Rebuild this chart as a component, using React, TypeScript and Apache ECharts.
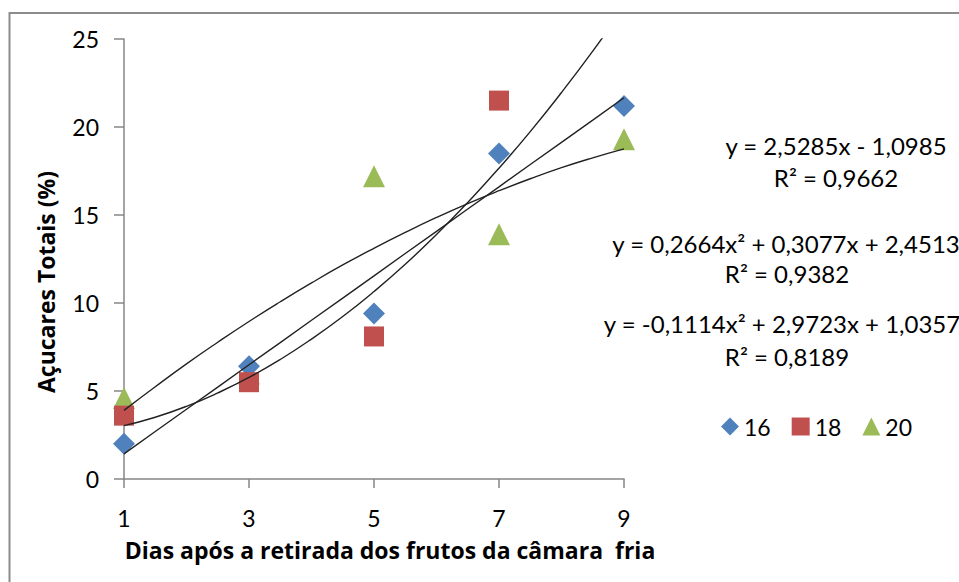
import React, { useEffect, useRef } from "react";
import * as echarts from "echarts";

// Observed data (days after removal from cold storage)
const days = [1, 3, 5, 7, 9];
const s16 = [2.0, 6.4, 9.4, 18.5, 21.2];
const s18Days = [1, 3, 5, 7];
const s18 = [3.6, 5.5, 8.1, 21.5];
const s20 = [4.6, 6.0, 17.2, 13.9, 19.3];

// Trend lines
const trendX = [1, 1.5, 2, 2.5, 3, 3.5, 4, 4.5, 5, 5.5, 6, 6.5, 7, 7.5, 8, 8.5, 9];
const trend16 = [1.43, 2.7, 3.96, 5.22, 6.49, 7.75, 9.02, 10.28, 11.54, 12.81, 14.07, 15.34, 16.6, 17.87, 19.13, 20.39, 21.66];
const trend18 = [3.03, 3.51, 4.13, 4.89, 5.77, 6.79, 7.95, 9.23, 10.65, 12.2, 13.89, 15.71, 17.66, 19.74, 21.96, 24.31, 26.8];
const trend20 = [3.9, 5.24, 6.54, 7.77, 8.95, 10.07, 11.14, 12.16, 13.11, 14.01, 14.86, 15.65, 16.38, 17.06, 17.69, 18.25, 18.76];

const xTicks = [1, 3, 5, 7, 9];
const equations = [
  "y = 2,5285x - 1,0985",
  "R² = 0,9662",
  "y = 0,2664x² + 0,3077x + 2,4513",
  "R² = 0,9382",
  "y = -0,1114x² + 2,9723x + 1,0357",
  "R² = 0,8189",
];
const eqPos = [
  [836, 145],
  [836, 177],
  [786, 243],
  [787, 273],
  [782, 323],
  [787, 356],
];

const FONT = "Lato, 'Open Sans', sans-serif";
const TITLE_FONT = "'Open Sans', Lato, sans-serif";

const pairs = (xs: number[], ys: number[]) => xs.map((x, i) => [x, ys[i]]);

export default function App() {
  const ref = useRef<HTMLDivElement>(null);
  useEffect(() => {
    if (!ref.current) return;
    const chart = echarts.init(ref.current, null, { renderer: "svg" });
    const lineStyle = { color: "#222222", width: 1.4 };
    const trend = (name: string, ys: number[], smooth: boolean) => ({
      name,
      type: "line",
      data: pairs(trendX, ys),
      showSymbol: false,
      symbol: "none",
      smooth,
      clip: true,
      lineStyle,
      z: 5,
      silent: true,
    });
    chart.setOption({
      animation: false,
      backgroundColor: "#ffffff",
      textStyle: { fontFamily: FONT },
      grid: { left: 124, right: 335, top: 39, bottom: 103, containLabel: false },
      legend: {
        data: [
          { name: "16", icon: "diamond" },
          { name: "18", icon: "rect" },
          { name: "20", icon: "triangle" },
        ],
        left: 716,
        top: 410,
        itemWidth: 18,
        itemHeight: 18,
        itemGap: 21,
        textStyle: { fontFamily: FONT, fontSize: 23, color: "#000" },
        selectedMode: false,
      },
      xAxis: {
        type: "value",
        min: 1,
        max: 9,
        splitLine: { show: false },
        axisLine: { lineStyle: { color: "#868686", width: 1.5 } },
        axisTick: { show: true, length: 9, customValues: xTicks, lineStyle: { color: "#868686", width: 1.5 } },
        axisLabel: { customValues: xTicks, margin: 27, fontSize: 23, color: "#000", fontFamily: FONT },
      },
      yAxis: {
        type: "value",
        min: 0,
        max: 25,
        interval: 5,
        splitLine: { show: false },
        axisLine: { show: true, lineStyle: { color: "#868686", width: 1.5 } },
        axisTick: { show: true, length: 10, lineStyle: { color: "#868686", width: 1.5 } },
        axisLabel: { margin: 25, fontSize: 23, color: "#000", fontFamily: FONT },
      },
      graphic: [
        {
          type: "rect",
          shape: { x: 9.5, y: 13, width: 1000, height: 1000 },
          style: { fill: "none", stroke: "#8c8c8c", lineWidth: 2 },
          silent: true,
          z: -1,
        },
        {
          type: "text",
          x: 390,
          y: 550,
          style: {
            text: "Dias após a retirada dos frutos da câmara  fria",
            fontFamily: TITLE_FONT,
            fontWeight: "bold",
            fontSize: 23,
            fill: "#000",
            textAlign: "center",
            textVerticalAlign: "middle",
          },
        },
        {
          type: "text",
          x: 46,
          y: 282,
          rotation: Math.PI / 2,
          style: {
            text: "Açucares Totais (%)",
            fontFamily: TITLE_FONT,
            fontWeight: "bold",
            fontSize: 23,
            fill: "#000",
            textAlign: "center",
            textVerticalAlign: "middle",
          },
        },
        ...equations.map((t, i) => ({
          type: "text",
          x: eqPos[i][0],
          y: eqPos[i][1],
          style: {
            text: t,
            fontFamily: FONT,
            fontSize: 24,
            fill: "#000",
            textAlign: "center",
            textVerticalAlign: "middle",
          },
        })),
      ],
      series: [
        {
          name: "16",
          type: "scatter",
          data: pairs(days, s16),
          symbol: "diamond",
          symbolSize: [22, 22],
          itemStyle: { color: "#4F81BD", opacity: 1 },
          z: 3,
        },
        {
          name: "18",
          type: "scatter",
          data: pairs(s18Days, s18),
          symbol: "rect",
          symbolSize: [20, 20],
          itemStyle: { color: "#C0504D", opacity: 1 },
          z: 3,
        },
        {
          name: "20",
          type: "scatter",
          data: pairs(days, s20),
          symbol: "triangle",
          symbolSize: [22, 22],
          itemStyle: { color: "#9BBB59", opacity: 1 },
          z: 2,
        },
        trend("trend16", trend16, false),
        trend("trend18", trend18, true),
        trend("trend20", trend20, true),
      ],
    });
    return () => chart.dispose();
  }, []);
  return (
    <div
      ref={ref}
      style={{ position: "fixed", left: 0, top: 0, width: 959, height: 582, background: "#fff" }}
    />
  );
}
